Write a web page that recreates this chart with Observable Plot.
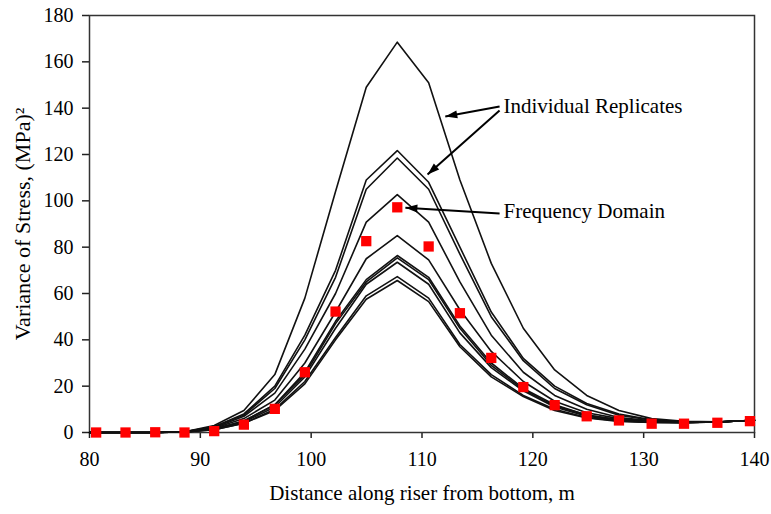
<!DOCTYPE html>
<html>
<head>
<meta charset="utf-8">
<script src="https://cdn.jsdelivr.net/npm/d3@7"></script>
<script src="https://cdn.jsdelivr.net/npm/@observablehq/plot@0.6"></script>
<style>
  html, body { margin: 0; padding: 0; background: #fff; }
</style>
</head>
<body>
<div id="chart"></div>
<script>
// Sample positions along the riser (m)
const xFreq = [80.6, 83.25, 85.93, 88.57, 91.25, 93.93, 96.72, 99.43, 102.2, 104.97, 107.77, 110.6, 113.42, 116.25, 119.14, 121.97, 124.86, 127.77, 130.72, 133.64, 136.65, 139.59];
const xRep  = [80, 83.25, 85.93, 88.57, 91.25, 93.93, 96.72, 99.43, 102.2, 104.97, 107.77, 110.6, 113.42, 116.25, 119.14, 121.97, 124.86, 127.77, 130.72, 133.64, 136.65, 140];

// Frequency-domain variance (red squares)
const freqDomain = [0, 0, 0.1, 0, 0.6, 3.4, 10.2, 26, 52.2, 82.6, 97.2, 80.3, 51.5, 32.2, 19.6, 11.8, 7.0, 5.2, 3.8, 3.8, 4.2, 4.9];

// Individual replicates (black lines)
const rep1  = [0, 0, 0, 0.3, 3.0, 9.5, 25, 58, 104, 149, 168.5, 151, 109, 73, 45, 27, 16, 9.5, 6.0, 4.8, 4.6, 5.3];
const rep2  = [0, 0, 0, 0.3, 2.5, 8.0, 20, 42, 70, 109, 121.7, 108, 80, 52, 32, 20, 12.5, 8.0, 5.5, 4.6, 4.5, 5.3];
const rep3  = [0, 0, 0, 0.3, 2.5, 7.5, 19, 40, 67, 105, 118.5, 105, 77, 50, 31, 19, 12, 7.5, 5.3, 4.5, 4.5, 5.3];
const rep4  = [0, 0, 0, 0.3, 2.0, 7.0, 17, 36, 60, 90.8, 102.7, 90.8, 65, 42, 26, 16, 10, 6.5, 5.0, 4.4, 4.5, 5.3];
const rep5  = [0, 0, 0, 0.3, 1.8, 6.0, 14, 30, 52, 75, 85, 74.5, 53, 35, 22, 13.5, 8.5, 6.0, 4.8, 4.3, 4.5, 5.3];
const rep6  = [0, 0, 0, 0.2, 1.5, 5.0, 12, 26, 48, 66, 76.4, 67, 46, 30, 19, 12, 7.5, 5.5, 4.5, 4.3, 4.5, 5.3];
const rep7  = [0, 0, 0, 0.2, 1.5, 5.0, 12, 25, 47, 65, 75.4, 66, 45, 29, 18.5, 11.5, 7.5, 5.5, 4.5, 4.3, 4.5, 5.3];
const rep8  = [0, 0, 0, 0.2, 1.4, 4.5, 11, 24, 45, 64, 73.5, 64, 43, 28, 18, 11, 7.0, 5.2, 4.4, 4.3, 4.5, 5.3];
const rep9  = [0, 0, 0, 0.2, 1.2, 4.0, 10, 22, 41, 59, 67.3, 58, 38, 25, 16, 10, 6.5, 5.0, 4.3, 4.2, 4.5, 5.3];
const rep10 = [0, 0, 0, 0.2, 1.2, 4.0, 9.5, 21, 40, 57.5, 65.6, 56.5, 37, 24, 15.5, 9.5, 6.3, 4.8, 4.3, 4.2, 4.5, 5.3];

// Axis ticks and titles
const xTicks = [80, 90, 100, 110, 120, 130, 140];
const yTicks = [0, 20, 40, 60, 80, 100, 120, 140, 160, 180];
const xTitle = "Distance along riser from bottom, m";
const yTitle = "Variance of Stress, (MPa)²";

// Annotations (data units)
const labelText = ["Individual Replicates", "Frequency Domain"];
const labelX = [117.35, 117.35];
const labelY = [140.7, 95.4];
const arrowX1 = [117.0, 117.0, 117.0];
const arrowY1 = [140.7, 139.0, 94.5];
const arrowX2 = [112.1, 110.5, 108.5];
const arrowY2 = [136.4, 111.4, 97.0];

const reps = [rep1, rep2, rep3, rep4, rep5, rep6, rep7, rep8, rep9, rep10];
const lineData = reps.flatMap((vals, k) => vals.map((v, i) => ({x: xRep[i], y: v, id: k})));
const freqData = freqDomain.map((v, i) => ({x: xFreq[i], y: v}));
const labels = labelText.map((t, i) => ({t, x: labelX[i], y: labelY[i]}));
const arrows = arrowX1.map((x1, i) => ({x1, y1: arrowY1[i], x2: arrowX2[i], y2: arrowY2[i], angle: 0}));

const serif = "'Liberation Serif', 'Times New Roman', serif";

// Filled, slender arrow head with its tip at the origin, pointing up
const headSymbol = {
  draw(context) {
    context.moveTo(0, 0);
    context.lineTo(-4, 12);
    context.lineTo(4, 12);
    context.closePath();
  }
};

const options = (arrowData) => ({
  width: 771,
  height: 514,
  marginLeft: 89,
  marginRight: 17,
  marginTop: 15,
  marginBottom: 82,
  style: {fontFamily: serif, fontSize: "20px", background: "#fff", color: "#000", overflow: "visible"},
  x: {domain: [80, 140]},
  y: {domain: [0, 180]},
  marks: [
    Plot.axisX({ticks: xTicks, tickSize: 6, tickPadding: 13, label: null, fontSize: 20, stroke: "#222", strokeWidth: 1.5}),
    Plot.axisY({ticks: yTicks, tickSize: 7, tickPadding: 9, label: null, fontSize: 20, stroke: "#222", strokeWidth: 1.5}),
    Plot.frame({stroke: "#333", strokeWidth: 1.5}),
    Plot.line(lineData, {x: "x", y: "y", z: "id", stroke: "#111", strokeWidth: 1.6}),
    Plot.dot(freqData, {x: "x", y: "y", symbol: "square", r: 5.8, fill: "#ff0000", stroke: "none"}),
    Plot.link(arrowData, {x1: "x1", y1: "y1", x2: "x2", y2: "y2", stroke: "#000", strokeWidth: 2}),
    Plot.dot(arrowData, {x: "x2", y: "y2", symbol: headSymbol, rotate: "angle", fill: "#000", stroke: "none"}),
    Plot.text(labels, {x: "x", y: "y", text: "t", textAnchor: "start", fontSize: 21, fill: "#000"}),
    Plot.text([xTitle], {frameAnchor: "bottom", dy: 67, fontSize: 21, fill: "#000"}),
    Plot.text([yTitle], {frameAnchor: "left", textAnchor: "middle", dx: -67, rotate: -90, fontSize: 22, fill: "#000"})
  ]
});

// First pass to obtain the scales, then orient the arrow heads on screen
const probe = Plot.plot(options(arrows));
const sx = probe.scale("x"), sy = probe.scale("y");
const arrowsOriented = arrows.map(a => {
  const dx = sx.apply(a.x2) - sx.apply(a.x1);
  const dy = sy.apply(a.y2) - sy.apply(a.y1);
  return {...a, angle: Math.atan2(dy, dx) * 180 / Math.PI + 90};
});
const chart = Plot.plot(options(arrowsOriented));
document.getElementById("chart").appendChild(chart);
</script>
</body>
</html>
